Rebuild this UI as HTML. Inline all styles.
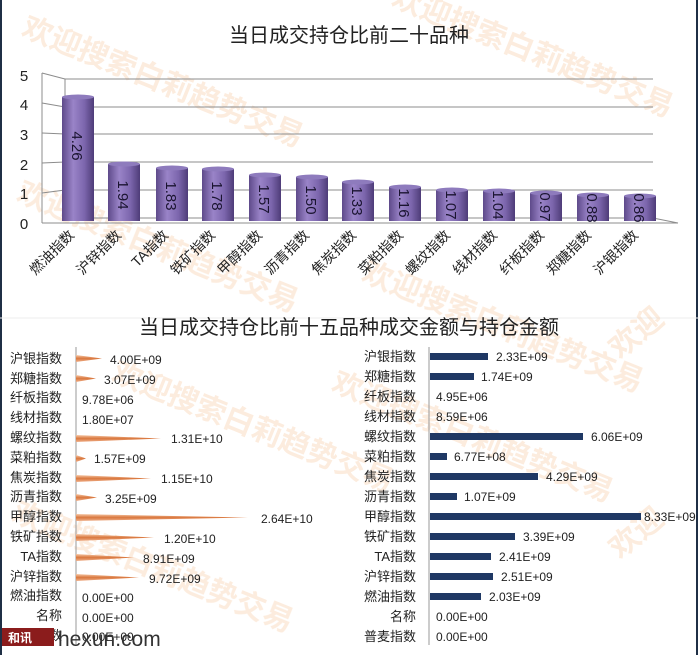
<!DOCTYPE html>
<html><head><meta charset="utf-8"><style>
html,body{margin:0;padding:0;background:#fff}
svg{display:block;font-family:"Liberation Sans","Noto Sans CJK SC",sans-serif}
</style></head><body>
<svg width="699" height="655" viewBox="0 0 699 655" xmlns="http://www.w3.org/2000/svg">
<defs>
<linearGradient id="cyl" x1="0" x2="1" y1="0" y2="0">
<stop offset="0" stop-color="#5e4a8a"/><stop offset="0.35" stop-color="#9a84c8"/><stop offset="0.7" stop-color="#7c66ad"/><stop offset="1" stop-color="#4e3c78"/>
</linearGradient>
<linearGradient id="cone" x1="0" x2="0" y1="0" y2="1">
<stop offset="0" stop-color="#f6c9a8"/><stop offset="0.5" stop-color="#d9773e"/><stop offset="1" stop-color="#f0b08a"/>
</linearGradient>
</defs>
<rect x="0" y="0" width="699" height="655" fill="#fff"/>
<line x1="1" y1="0" x2="1" y2="655" stroke="#1f2f45" stroke-width="2"/>
<line x1="697" y1="0" x2="697" y2="655" stroke="#1f2f45" stroke-width="2"/>
<line x1="0" y1="318" x2="699" y2="318" stroke="#eee" stroke-width="1"/>

<g fill="#f7c9a0" opacity="0.35" font-size="30" font-weight="bold">
<text transform="translate(20,35) rotate(22)">欢迎搜索白莉趋势交易</text>
<text transform="translate(390,5) rotate(22)">欢迎搜索白莉趋势交易</text>
<text transform="translate(15,200) rotate(22)">欢迎搜索白莉趋势交易</text>
<text transform="translate(360,280) rotate(22)">欢迎搜索白莉趋势交易</text>
<text transform="translate(110,380) rotate(22)">欢迎搜索白莉趋势交易</text>
<text transform="translate(330,390) rotate(22)">欢迎搜索白莉趋势交易</text>
<text transform="translate(10,520) rotate(22)">欢迎搜索白莉趋势交易</text>
<text transform="translate(620,360) rotate(-40)">欢迎</text>
<text transform="translate(620,560) rotate(-40)">欢迎</text>
</g>

<text x="349" y="42" font-size="20" text-anchor="middle" fill="#222">当日成交持仓比前二十品种</text>

<g stroke="#8c8c8c" stroke-width="1">
<line x1="65" y1="79" x2="653" y2="79"/>
<line x1="65" y1="107" x2="653" y2="107"/>
<line x1="65" y1="134" x2="653" y2="134"/>
<line x1="65" y1="162" x2="653" y2="162"/>
<line x1="65" y1="190" x2="653" y2="190"/>
<line x1="65" y1="218" x2="653" y2="218"/>
<line x1="65" y1="79" x2="65" y2="218"/>
<line x1="42" y1="73" x2="42" y2="223"/>
<line x1="42" y1="223" x2="678" y2="223"/>
<line x1="653" y1="218" x2="678" y2="223"/>
<line x1="42" y1="73" x2="65" y2="79"/><line x1="42" y1="103" x2="65" y2="107"/><line x1="42" y1="133" x2="65" y2="134"/><line x1="42" y1="163" x2="65" y2="162"/><line x1="42" y1="193" x2="65" y2="190"/>
</g>
<g font-size="15" fill="#222" text-anchor="middle">
<text x="24" y="81">5</text><text x="24" y="110">4</text><text x="24" y="140">3</text><text x="24" y="170">2</text><text x="24" y="199">1</text><text x="24" y="229">0</text>
</g>

<g>
<rect x="62" y="97" width="32" height="124" fill="url(#cyl)"/><ellipse cx="78" cy="97" rx="16" ry="2.5" fill="#8e7bbd"/>
<rect x="108" y="164" width="32" height="57" fill="url(#cyl)"/><ellipse cx="124" cy="164" rx="16" ry="2.5" fill="#8e7bbd"/>
<rect x="156" y="168" width="32" height="53" fill="url(#cyl)"/><ellipse cx="172" cy="168" rx="16" ry="2.5" fill="#8e7bbd"/>
<rect x="202" y="169" width="32" height="52" fill="url(#cyl)"/><ellipse cx="218" cy="169" rx="16" ry="2.5" fill="#8e7bbd"/>
<rect x="249" y="175" width="32" height="46" fill="url(#cyl)"/><ellipse cx="265" cy="175" rx="16" ry="2.5" fill="#8e7bbd"/>
<rect x="296" y="177" width="32" height="44" fill="url(#cyl)"/><ellipse cx="312" cy="177" rx="16" ry="2.5" fill="#8e7bbd"/>
<rect x="342" y="182" width="32" height="39" fill="url(#cyl)"/><ellipse cx="358" cy="182" rx="16" ry="2.5" fill="#8e7bbd"/>
<rect x="389" y="187" width="32" height="34" fill="url(#cyl)"/><ellipse cx="405" cy="187" rx="16" ry="2.5" fill="#8e7bbd"/>
<rect x="436" y="190" width="32" height="31" fill="url(#cyl)"/><ellipse cx="452" cy="190" rx="16" ry="2.5" fill="#8e7bbd"/>
<rect x="483" y="191" width="32" height="30" fill="url(#cyl)"/><ellipse cx="499" cy="191" rx="16" ry="2.5" fill="#8e7bbd"/>
<rect x="530" y="193" width="32" height="28" fill="url(#cyl)"/><ellipse cx="546" cy="193" rx="16" ry="2.5" fill="#8e7bbd"/>
<rect x="577" y="195" width="32" height="26" fill="url(#cyl)"/><ellipse cx="593" cy="195" rx="16" ry="2.5" fill="#8e7bbd"/>
<rect x="624" y="196" width="32" height="25" fill="url(#cyl)"/><ellipse cx="640" cy="196" rx="16" ry="2.5" fill="#8e7bbd"/>
</g>
<g font-size="15" fill="#1a1430">
<text transform="translate(72,146) rotate(90)" text-anchor="middle">4.26</text>
<text transform="translate(118,195) rotate(90)" text-anchor="middle">1.94</text>
<text transform="translate(166,196) rotate(90)" text-anchor="middle">1.83</text>
<text transform="translate(212,196) rotate(90)" text-anchor="middle">1.78</text>
<text transform="translate(259,199) rotate(90)" text-anchor="middle">1.57</text>
<text transform="translate(306,200) rotate(90)" text-anchor="middle">1.50</text>
<text transform="translate(352,201) rotate(90)" text-anchor="middle">1.33</text>
<text transform="translate(399,203) rotate(90)" text-anchor="middle">1.16</text>
<text transform="translate(446,205) rotate(90)" text-anchor="middle">1.07</text>
<text transform="translate(493,205) rotate(90)" text-anchor="middle">1.04</text>
<text transform="translate(540,207) rotate(90)" text-anchor="middle">0.97</text>
<text transform="translate(587,208) rotate(90)" text-anchor="middle">0.88</text>
<text transform="translate(634,208) rotate(90)" text-anchor="middle">0.86</text>
</g>

<g font-size="14" fill="#222" text-anchor="end">
<text transform="translate(75,236) rotate(-45)">燃油指数</text>
<text transform="translate(122,236) rotate(-45)">沪锌指数</text>
<text transform="translate(169,236) rotate(-45)">TA指数</text>
<text transform="translate(216,236) rotate(-45)">铁矿指数</text>
<text transform="translate(263,236) rotate(-45)">甲醇指数</text>
<text transform="translate(310,236) rotate(-45)">沥青指数</text>
<text transform="translate(357,236) rotate(-45)">焦炭指数</text>
<text transform="translate(404,236) rotate(-45)">菜粕指数</text>
<text transform="translate(451,236) rotate(-45)">螺纹指数</text>
<text transform="translate(498,236) rotate(-45)">线材指数</text>
<text transform="translate(545,236) rotate(-45)">纤板指数</text>
<text transform="translate(592,236) rotate(-45)">郑糖指数</text>
<text transform="translate(639,236) rotate(-45)">沪银指数</text>
</g>

<text x="349" y="334" font-size="20" text-anchor="middle" fill="#222">当日成交持仓比前十五品种成交金额与持仓金额</text>

<line x1="76" y1="347" x2="76" y2="645" stroke="#999"/>
<g font-size="13" fill="#222" text-anchor="end">
<text x="62" y="363">沪银指数</text><text x="62" y="383">郑糖指数</text><text x="62" y="402">纤板指数</text><text x="62" y="422">线材指数</text><text x="62" y="442">螺纹指数</text><text x="62" y="462">菜粕指数</text><text x="62" y="482">焦炭指数</text><text x="62" y="501">沥青指数</text><text x="62" y="521">甲醇指数</text><text x="62" y="541">铁矿指数</text><text x="62" y="561">TA指数</text><text x="62" y="581">沪锌指数</text><text x="62" y="600">燃油指数</text><text x="62" y="620">名称</text><text x="62" y="640">普麦指数</text>
</g>
<g fill="url(#cone)">
<polygon points="76,355 102,358.5 76,362"/>
<polygon points="76,375 96,378.5 76,382"/>
<polygon points="76,435 161,438.5 76,442"/>
<polygon points="76,455 86,458.5 76,462"/>
<polygon points="76,475 151,478.5 76,482"/>
<polygon points="76,494 97,497.5 76,501"/>
<polygon points="76,514 248,517.5 76,521"/>
<polygon points="76,534 154,537.5 76,541"/>
<polygon points="76,554 134,557.5 76,561"/>
<polygon points="76,574 139,577.5 76,581"/>
</g>
<g font-size="12" fill="#222">
<text x="110" y="364">4.00E+09</text><text x="104" y="384">3.07E+09</text><text x="82" y="404">9.78E+06</text><text x="82" y="424">1.80E+07</text><text x="171" y="443">1.31E+10</text><text x="94" y="463">1.57E+09</text><text x="161" y="483">1.15E+10</text><text x="105" y="503">3.25E+09</text><text x="261" y="523">2.64E+10</text><text x="164" y="543">1.20E+10</text><text x="143" y="563">8.91E+09</text><text x="149" y="583">9.72E+09</text><text x="82" y="602">0.00E+00</text><text x="82" y="622">0.00E+00</text><text x="82" y="641">0.00E+00</text>
</g>

<line x1="429" y1="347" x2="429" y2="645" stroke="#999"/>
<g font-size="13" fill="#222" text-anchor="end">
<text x="416" y="361">沪银指数</text><text x="416" y="381">郑糖指数</text><text x="416" y="401">纤板指数</text><text x="416" y="421">线材指数</text><text x="416" y="441">螺纹指数</text><text x="416" y="461">菜粕指数</text><text x="416" y="481">焦炭指数</text><text x="416" y="501">沥青指数</text><text x="416" y="521">甲醇指数</text><text x="416" y="541">铁矿指数</text><text x="416" y="561">TA指数</text><text x="416" y="581">沪锌指数</text><text x="416" y="601">燃油指数</text><text x="416" y="621">名称</text><text x="416" y="641">普麦指数</text>
</g>
<g fill="#1f3864">
<rect x="430" y="353" width="58" height="7"/>
<rect x="430" y="373" width="44" height="7"/>
<rect x="430" y="433" width="153" height="7"/>
<rect x="430" y="453" width="17" height="7"/>
<rect x="430" y="473" width="108" height="7"/>
<rect x="430" y="493" width="27" height="7"/>
<rect x="430" y="513" width="211" height="7"/>
<rect x="430" y="533" width="85" height="7"/>
<rect x="430" y="553" width="61" height="7"/>
<rect x="430" y="573" width="63" height="7"/>
<rect x="430" y="593" width="51" height="7"/>
</g>
<g font-size="12" fill="#222">
<text x="496" y="361">2.33E+09</text><text x="481" y="381">1.74E+09</text><text x="436" y="401">4.95E+06</text><text x="436" y="421">8.59E+06</text><text x="591" y="441">6.06E+09</text><text x="454" y="461">6.77E+08</text><text x="546" y="481">4.29E+09</text><text x="464" y="501">1.07E+09</text><text x="644" y="521">8.33E+09</text><text x="523" y="541">3.39E+09</text><text x="499" y="561">2.41E+09</text><text x="501" y="581">2.51E+09</text><text x="489" y="601">2.03E+09</text><text x="436" y="621">0.00E+00</text><text x="436" y="641">0.00E+00</text>
</g>

<rect x="2" y="628" width="52" height="18" fill="#8b1c1c"/>
<text x="8" y="642" font-size="12" fill="#fff" font-weight="bold">和讯</text>
<text x="58" y="646" font-size="21" fill="#333">hexun.com</text>
</svg>
</body></html>
